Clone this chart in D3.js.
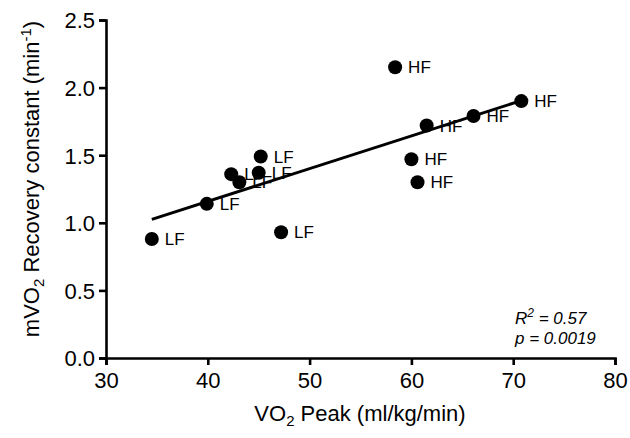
<!DOCTYPE html>
<html><head><meta charset="utf-8">
<script src="https://cdn.jsdelivr.net/npm/d3@7"></script>
<style>body{margin:0;background:#fff}svg{display:block}text{font-family:"Liberation Sans",Arial,sans-serif}</style>
</head><body><svg id="c" width="630" height="438"></svg>
<script>
const vo2Peak = [34.5, 39.9, 42.3, 43.1, 45.0, 45.2, 47.2, 58.4, 60.0, 60.6, 61.5, 66.1, 70.8];
const recovery = [0.88, 1.14, 1.36, 1.30, 1.37, 1.49, 0.93, 2.15, 1.47, 1.30, 1.72, 1.79, 1.90];
const group = ["LF","LF","LF","LF","LF","LF","LF","HF","HF","HF","HF","HF","HF"];
const xTicks = [30, 40, 50, 60, 70, 80];
const yTicks = [0.0, 0.5, 1.0, 1.5, 2.0, 2.5];
const statsLines = ["R2 = 0.57", "p = 0.0019"];

const svg = d3.select("#c");
const x = d3.scaleLinear().domain([30, 80]).range([106, 615]);
const y = d3.scaleLinear().domain([0, 2.5]).range([358, 20]);

const xAxis = svg.append("g").attr("transform", "translate(0,358)")
  .call(d3.axisBottom(x).tickValues(xTicks).tickSize(7).tickPadding(7).tickFormat(d3.format("d")));
const yAxis = svg.append("g").attr("transform", "translate(106,0)")
  .call(d3.axisLeft(y).tickValues(yTicks).tickSize(7).tickPadding(4).tickFormat(d3.format(".1f")));
[xAxis, yAxis].forEach(a => {
  a.select(".domain").attr("stroke", "#000").attr("stroke-width", 2.6);
  a.selectAll(".tick line").attr("stroke", "#000").attr("stroke-width", 2.6);
  a.selectAll(".tick text").attr("fill", "#000").style("font-size", "22px");
});
yAxis.selectAll(".tick text").attr("dy", "0.36em");

// regression
const n = vo2Peak.length;
const mx = d3.mean(vo2Peak), my = d3.mean(recovery);
let sxy = 0, sxx = 0;
for (let i = 0; i < n; i++) { sxy += (vo2Peak[i]-mx)*(recovery[i]-my); sxx += (vo2Peak[i]-mx)**2; }
const b = sxy / sxx, a0 = my - b * mx;
const x0 = d3.min(vo2Peak), x1 = d3.max(vo2Peak);
svg.append("line").attr("x1", x(x0)).attr("y1", y(a0 + b*x0)).attr("x2", x(x1)).attr("y2", y(a0 + b*x1))
  .attr("stroke", "#000").attr("stroke-width", 3);

const pts = vo2Peak.map((v, i) => ({x: v, y: recovery[i], g: group[i]}));
svg.append("g").selectAll("circle").data(pts).join("circle")
  .attr("cx", d => x(d.x)).attr("cy", d => y(d.y)).attr("r", 7).attr("fill", "#000");
svg.append("g").selectAll("text").data(pts).join("text")
  .attr("x", d => x(d.x) + 13).attr("y", d => y(d.y)).attr("dy", "0.36em")
  .style("font-size", "17px").attr("fill", "#000").text(d => d.g);

// axis titles
const yt = svg.append("text").attr("transform", "translate(39,179) rotate(-90)")
  .attr("text-anchor", "middle").style("font-size", "22px");
yt.append("tspan").text("mVO");
yt.append("tspan").attr("dy", 5).style("font-size", "15px").text("2");
yt.append("tspan").attr("dy", -5).text(" Recovery constant (min");
yt.append("tspan").attr("dy", -8).style("font-size", "15px").text("-1");
yt.append("tspan").attr("dy", 8).text(")");

const xt = svg.append("text").attr("x", 360).attr("y", 421).attr("text-anchor", "middle").style("font-size", "22px");
xt.append("tspan").text("VO");
xt.append("tspan").attr("dy", 5).style("font-size", "15px").text("2");
xt.append("tspan").attr("dy", -5).text(" Peak (ml/kg/min)");

// stats annotation
const s1 = svg.append("text").attr("x", 515).attr("y", 324).style("font-size", "17px").style("font-style", "italic");
s1.append("tspan").text(statsLines[0][0]);
s1.append("tspan").attr("dy", -7).style("font-size", "12px").text(statsLines[0][1]);
s1.append("tspan").attr("dy", 7).text(statsLines[0].slice(2));
svg.append("text").attr("x", 515).attr("y", 344).style("font-size", "17px").style("font-style", "italic").text(statsLines[1]);
</script></body></html>
